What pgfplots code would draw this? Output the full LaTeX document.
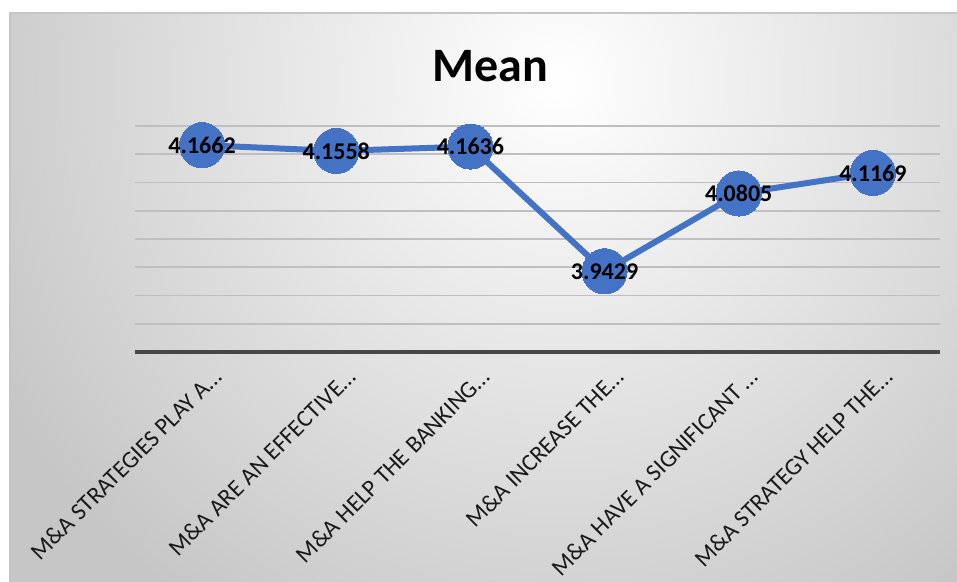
\documentclass[border=0pt]{standalone}
\usepackage{pgfplots}
\pgfplotsset{compat=1.18}
\usepackage{fontspec}
\setmainfont{Carlito}
\definecolor{mblue}{HTML}{4472C4}
\definecolor{bgout}{HTML}{C6C6C6}
\begin{document}
\begin{tikzpicture}
\useasboundingbox (0pt,0pt) rectangle (717.75pt,436.5pt);
\fill[white] (0pt,0pt) rectangle (717.75pt,436.5pt);
\begin{scope}
\clip (7.5pt,0pt) rectangle (717.75pt,426.75pt);
\fill[bgout] (7.5pt,0pt) rectangle (717.75pt,426.75pt);
\shade[inner color=white, outer color=bgout] (420pt,375pt) circle (480pt);
\end{scope}
\draw[gray!45, line width=1.5pt] (7.5pt,-4pt) -- (7.5pt,426.75pt) -- (725pt,426.75pt);
\node[font=\fontsize{36}{36}\selectfont\bfseries, anchor=base, text=black] at (367.5pt,375pt) {Mean};
\begin{axis}[
  at={(101.25pt,172.5pt)}, anchor=south west,
  scale only axis, width=603.75pt, height=169.5pt,
  xmin=-0.5, xmax=5.5, ymin=3.8, ymax=4.2,
  clip=false,
  axis line style={draw=none},
  major tick length=0pt,
  xtick={0,1,2,3,4,5},
  xticklabels={M\&A STRATEGIES PLAY A…, M\&A ARE AN EFFECTIVE…, M\&A HELP THE BANKING…, M\&A INCREASE THE…, M\&A HAVE A SIGNIFICANT …, M\&A STRATEGY HELP THE…},
  xticklabel style={xshift=7pt, yshift=-11pt, rotate=45, anchor=north east, inner sep=0pt, font=\fontsize{18}{18}\selectfont, text=black!90},
  ytick={3.85,3.9,3.95,4.0,4.05,4.1,4.15,4.2},
  yticklabels={},
  ymajorgrids,
  major grid style={gray!50, line width=1.2pt},
  extra y ticks={3.8},
  extra y tick labels={},
  extra y tick style={ymajorgrids=true, major grid style={black!72, line width=3pt}},
]
\addplot[color=mblue, line width=4.5pt, mark=*, mark size=16.9pt, mark options={fill=mblue, draw=mblue, line width=0pt},
  point meta=explicit symbolic, nodes near coords,
  every node near coord/.append style={anchor=center, font=\fontsize{18}{18}\selectfont\bfseries, text=black}]
coordinates {
(0,4.1662) [4.1662]
(1,4.1558) [4.1558]
(2,4.1636) [4.1636]
(3,3.9429) [3.9429]
(4,4.0805) [4.0805]
(5,4.1169) [4.1169]
};
\end{axis}
\end{tikzpicture}
\end{document}
